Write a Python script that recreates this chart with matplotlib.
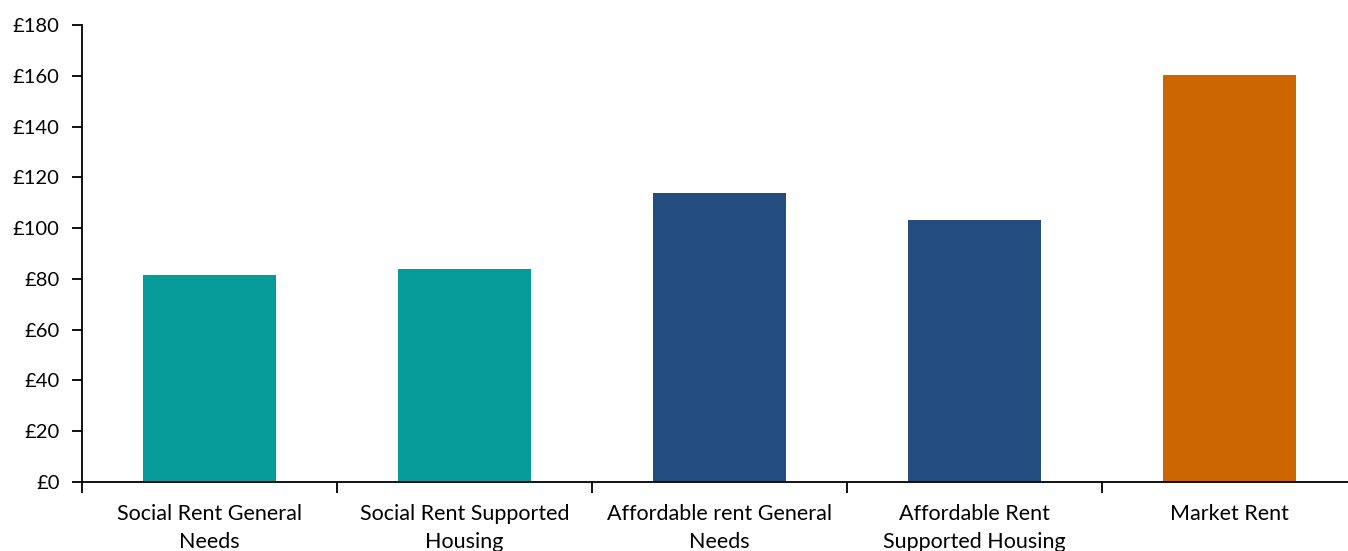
import matplotlib
matplotlib.use("Agg")
import matplotlib.pyplot as plt
import numpy as np

# datos
categorias = ["Social Rent General\nNeeds", "Social Rent Supported\nHousing",
              "Affordable rent General\nNeeds", "Affordable Rent\nSupported Housing",
              "Market Rent"]
valores = [81.5, 84.0, 113.8, 103.3, 160.4]
colores = ["#069B99", "#069B99", "#234D7E", "#234D7E", "#CC6600"]
yticks = [0, 20, 40, 60, 80, 100, 120, 140, 160, 180]

plt.rcParams['font.family'] = ['Lato', 'DejaVu Sans']

fig = plt.figure(figsize=(13.48, 5.51), dpi=100)
ax = fig.add_axes([0.0608, 0.1252, 0.9459, 0.8294])

x = np.arange(len(categorias))
ax.bar(x, valores, width=0.525, color=colores)

ax.set_xlim(-0.5, len(categorias) - 0.5)
ax.set_ylim(0, 180)
ax.set_yticks(yticks)
ax.set_yticklabels(["£%d" % v for v in yticks], fontsize=14.5)

# etiquetas centradas sin marca, marcas en los limites de cada categoria
ax.set_xticks(x)
ax.set_xticklabels(categorias, fontsize=15.5, linespacing=1.5)
ax.tick_params(axis='x', length=0, pad=16)
ax.set_xticks(np.arange(-0.5, len(categorias) + 0.5, 1), minor=True)
ax.tick_params(axis='x', which='minor', length=8, width=1.3, direction='out')
ax.tick_params(axis='y', length=7, width=1.3, direction='out', pad=9)

for lado in ['top', 'right']:
    ax.spines[lado].set_visible(False)
for lado in ['left', 'bottom']:
    ax.spines[lado].set_linewidth(1.3)

fig.savefig("out.png", dpi=100)
